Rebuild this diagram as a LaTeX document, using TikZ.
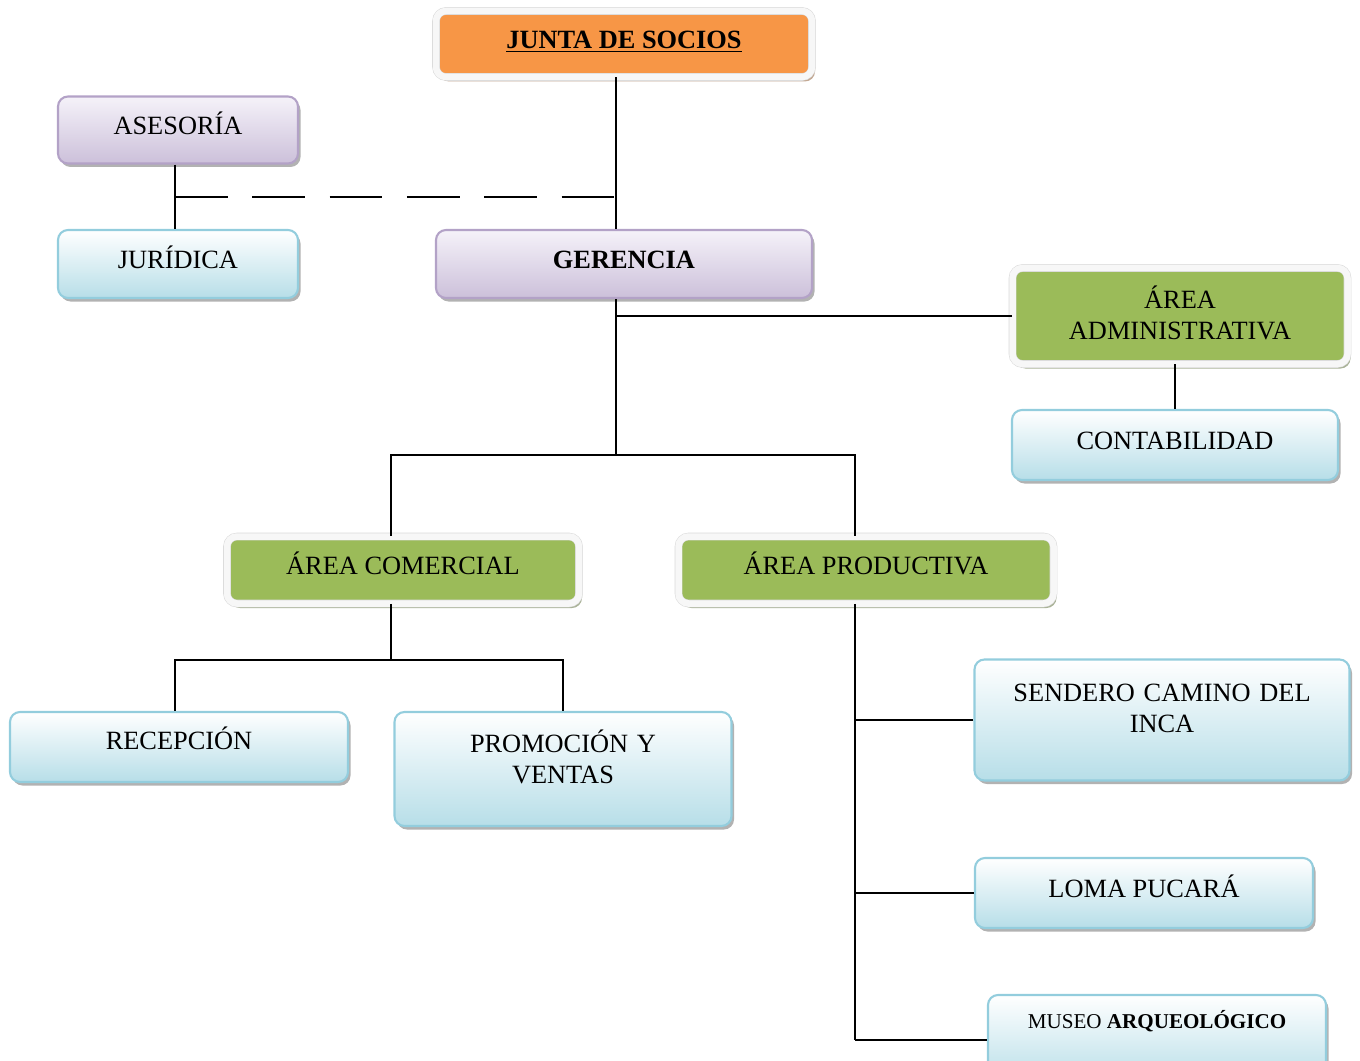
\documentclass[tikz,border=0pt]{standalone}
\usepackage{fontspec}
\setmainfont{Liberation Serif}
\usetikzlibrary{shadows}
\definecolor{orangeF}{HTML}{F79646}
\definecolor{greenF}{HTML}{9BBB59}
\definecolor{lilacTop}{HTML}{F5F2F9}
\definecolor{lilacBot}{HTML}{CCC0DA}
\definecolor{lilacLine}{HTML}{B3A2C7}
\definecolor{skyBot}{HTML}{B7DEE8}
\definecolor{skyLine}{HTML}{93CDDD}
\begin{document}
\begin{tikzpicture}[x=0.2mm, y=-0.2mm,
        box/.style={rounded corners=2mm, align=center, inner sep=2pt,
            font=\fontsize{15pt}{17.8pt}\selectfont},
        one/.style={text height=11pt, text depth=#1},
        one/.default=5.5pt,
        two/.style={text width=#1, text height=13pt},
        lilac/.style={box, draw=lilacLine, line width=1.2pt,
            top color=lilacTop, bottom color=lilacBot,
            drop shadow={shadow xshift=0.5mm, shadow yshift=-0.7mm, fill=black, opacity=0.3}},
        sky/.style={box, draw=skyLine, line width=1.2pt,
            top color=white, bottom color=skyBot,
            drop shadow={shadow xshift=0.5mm, shadow yshift=-0.7mm, fill=black, opacity=0.3}},
        framed/.style={box, fill=#1, draw=gray!30, double=gray!6,
            double distance=1.3mm, line width=0.3pt,
            drop shadow={shadow xshift=0.6mm, shadow yshift=-0.9mm, fill=#1!55!black, opacity=0.5}},
        link/.style={line width=1pt},
        dashlink/.style={link, dash pattern=on 30pt off 14pt}
    ]
    \useasboundingbox (0,0) rectangle (1360,1061);

    % TOP LEVEL
    \node[framed=orangeF, one, minimum width=75.2mm, minimum height=13.2mm] (junta) at (624,44)
        {\textbf{\underline{JUNTA DE SOCIOS}}};
    \node[lilac, one, minimum width=48mm, minimum height=13.4mm] (asesoria) at (178,130) {ASESORÍA};
    \node[sky, one, minimum width=48mm, minimum height=13.6mm] (juridica) at (178,264) {JURÍDICA};
    \node[lilac, one, minimum width=75.2mm, minimum height=13.6mm] (gerencia) at (624,264) {\textbf{GERENCIA}};

    % AREAS
    \node[framed=greenF, two=60mm, text depth=22pt, minimum width=67mm, minimum height=19.2mm]
        (admin) at (1180,316) {ÁREA\\ADMINISTRATIVA};
    \node[sky, one, minimum width=65.2mm, minimum height=14mm] (conta) at (1175,445) {CONTABILIDAD};
    \node[framed=greenF, one, minimum width=70.4mm, minimum height=13.4mm] (comercial) at (403,570)
        {ÁREA COMERCIAL};
    \node[framed=greenF, one, minimum width=75mm, minimum height=13.4mm] (productiva) at (866,570)
        {ÁREA PRODUCTIVA};

    % UNITS
    \node[sky, one=7.9pt, minimum width=67.6mm, minimum height=14mm] (recepcion) at (179,747) {RECEPCIÓN};
    \node[sky, two=60mm, text depth=32.3pt, minimum width=67.4mm, minimum height=22.8mm]
        (promocion) at (563,769) {PROMOCIÓN Y\\VENTAS};
    \node[sky, two=70mm, text depth=34.6pt, minimum width=75mm, minimum height=24.2mm]
        (sendero) at (1162,720) {SENDERO CAMINO DEL\\INCA};
    \node[sky, one, minimum width=67.6mm, minimum height=14mm] (loma) at (1144,893) {LOMA PUCARÁ};
    \node[sky, text height=9pt, text depth=22.6pt, font=\fontsize{12pt}{14pt}\selectfont,
        minimum width=67.6mm, minimum height=18mm] (museo) at (1157,1040)
        {MUSEO \textbf{ARQUEOLÓGICO}};

    % CONNECTORS
    \coordinate (axis) at (616,0);
    \coordinate (lx) at (175,0);
    \coordinate (cx) at (391,0);
    \coordinate (px) at (855,0);
    \coordinate (split) at (616,455);
    \coordinate (sales) at (391,660);
    \coordinate (legal) at (175,197);

    \draw[link] (junta.south -| axis) -- (gerencia.north -| axis);
    \draw[link] (asesoria.south -| lx) -- (juridica.north -| lx);
    \draw[dashlink] (legal) -- (legal -| axis);
    \draw[link] (gerencia.south -| axis) -- (split);
    \draw[link] (admin.west) -- (admin.west -| axis);
    \draw[link] (admin.south -| conta.north) -- (conta.north);
    \draw[link] (comercial.north -| cx) -- (split -| cx) -- (split -| px)
        -- (productiva.north -| px);
    \draw[link] (comercial.south -| cx) -- (sales);
    \draw[link] (recepcion.north -| lx) |- (sales) -| (promocion.north);
    \draw[link] (productiva.south -| px) -- (museo.west -| px);
    \draw[link] (sendero.west) -- (sendero.west -| px);
    \draw[link] (loma.west) -- (loma.west -| px);
    \draw[link] (museo.west) -- (museo.west -| px);

\end{tikzpicture}
\end{document}
